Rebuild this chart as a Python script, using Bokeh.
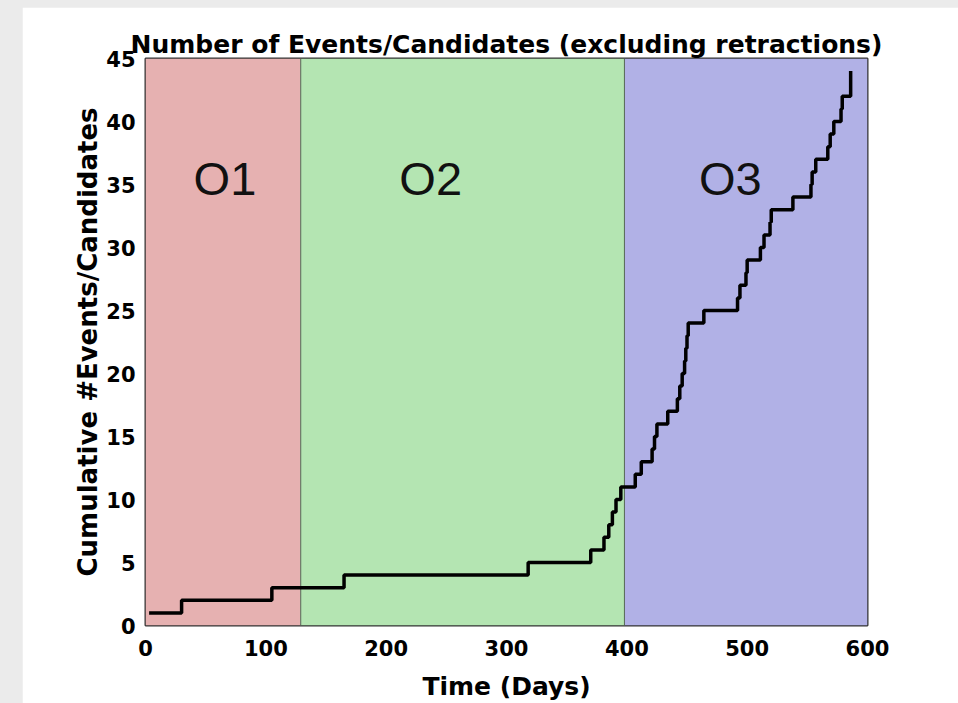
from bokeh.plotting import figure
from bokeh.models import ColumnDataSource, Range1d, FixedTicker
from bokeh.layouts import row
from bokeh.core.properties import value
from bokeh.embed import file_html
from bokeh.resources import INLINE

# Observing runs
run_names = ["O1", "O2", "O3"]
run_start = [0, 129, 398]
run_end = [129, 398, 600]
run_colors = ["#e6b1b1", "#b4e5b2", "#b1b1e6"]
label_x = [66, 237, 486]
label_y = [35.5, 35.5, 35.5]

# Cumulative number of events/candidates vs time (days)
event_days = [3, 30, 105, 165, 318, 370, 381, 385, 388, 391, 395, 407, 412, 421,
              423, 425, 434, 442, 444, 446, 448, 449, 450, 451, 464, 492, 494, 499,
              500, 511, 514, 519, 520, 538, 553, 554, 557, 567, 569, 572, 578, 579,
              586, 586]
cumulative = [1, 2, 3, 4, 5, 6, 7, 8, 9, 10, 11, 12, 13, 14, 15, 16, 17, 18, 19, 20,
              21, 22, 23, 24, 25, 26, 27, 28, 29, 30, 31, 32, 33, 34, 35, 36, 37, 38,
              39, 40, 41, 42, 43, 44]

x_ticks = [0, 100, 200, 300, 400, 500, 600]
y_ticks = [0, 5, 10, 15, 20, 25, 30, 35, 40, 45]

FONT = "DejaVu Sans"
LABEL_FONT = "Liberation Sans"

p = figure(width=936, height=696, output_backend="svg", toolbar_location=None,
           x_range=Range1d(0, 600), y_range=Range1d(0, 45),
           min_border_left=123, min_border_right=91, min_border_top=51, min_border_bottom=76,
           title="Number of Events/Candidates (excluding retractions)")
p.margin = (7, 0, 0, 22)
p.background_fill_color = "white"
p.border_fill_color = "white"
p.grid.visible = False
p.outline_line_color = "#333333"
p.outline_line_width = 2

p.title.text_font = FONT
p.title.text_font_size = "25px"
p.title.text_font_style = "bold"
p.title.align = "center"
p.title.text_color = "black"
p.title.standoff = 0

runs = ColumnDataSource(dict(left=run_start, right=run_end, color=run_colors))
p.quad(left="left", right="right", bottom=0, top=45, fill_color="color",
       line_color=None, source=runs)
p.segment(x0=run_start[1:], x1=run_start[1:], y0=0, y1=45, line_color="#556655",
          line_width=1)

p.step(x=event_days, y=cumulative, mode="after", line_color="black", line_width=3.5)

p.text(x=label_x, y=label_y, text=run_names, text_font=value(LABEL_FONT),
       text_font_size="47px", text_align="center", text_baseline="middle",
       text_color="#111111")

for ax in (p.xaxis[0], p.yaxis[0]):
    ax.axis_line_color = None
    ax.major_tick_line_color = None
    ax.minor_tick_line_color = None
    ax.major_label_text_font = FONT
    ax.major_label_text_font_style = "bold"
    ax.major_label_text_font_size = "21px"
    ax.major_label_text_color = "black"
    ax.axis_label_text_font = FONT
    ax.axis_label_text_font_style = "bold"
    ax.axis_label_text_color = "black"

p.xaxis.axis_label_text_font_size = "25px"
p.yaxis.axis_label_text_font_size = "26px"
p.xaxis.ticker = FixedTicker(ticks=x_ticks)
p.yaxis.ticker = FixedTicker(ticks=y_ticks)
p.xaxis.axis_label = "Time (Days)"
p.yaxis.axis_label = "Cumulative #Events/Candidates"
p.xaxis.major_label_standoff = 8
p.yaxis.major_label_standoff = 4
p.xaxis.axis_label_standoff = 13
p.yaxis.axis_label_standoff = 0

layout = row(p, styles={"background-color": "#ebebeb"})

open("out.html", "w").write(file_html(layout, INLINE))
